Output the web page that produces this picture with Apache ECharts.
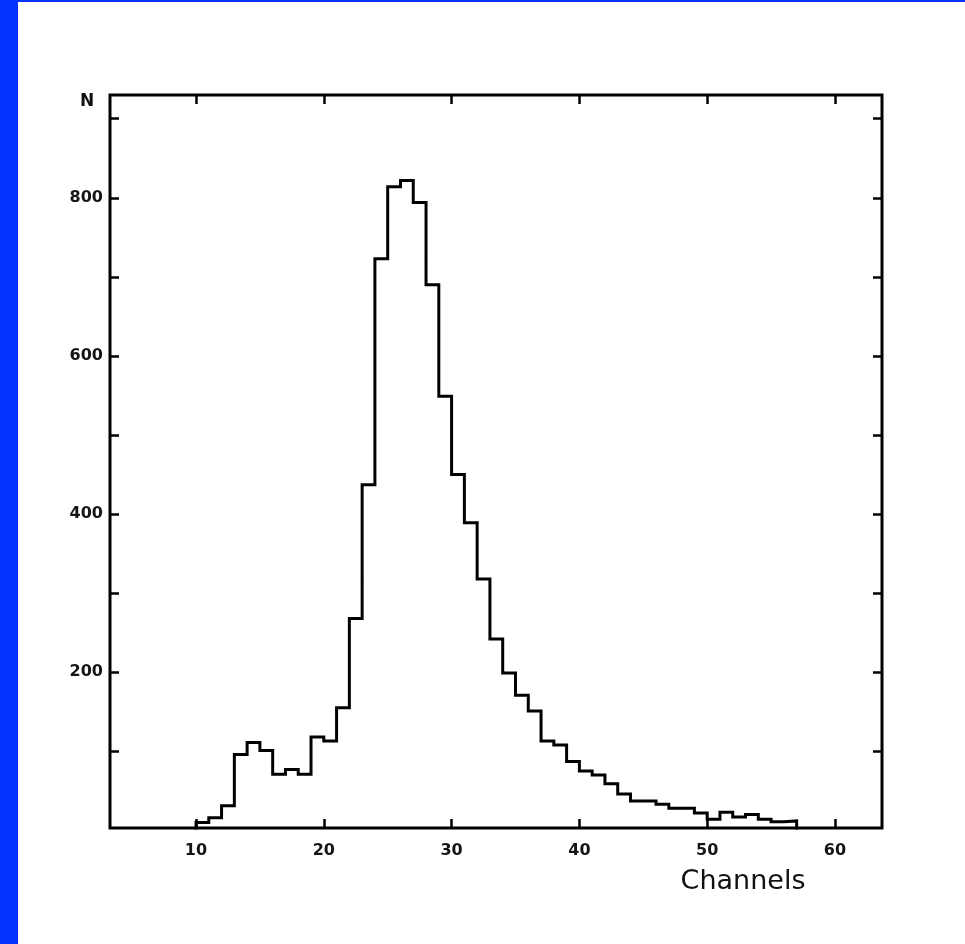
<!DOCTYPE html>
<html>
<head>
<meta charset="utf-8">
<script src="https://cdn.jsdelivr.net/npm/echarts@6/dist/echarts.min.js"></script>
<style>
html,body{margin:0;padding:0;background:#fff;}
#chart{width:965px;height:944px;}
</style>
</head>
<body>
<div id="chart"></div>
<script>
// Histogram: bin lower edges (channel) and counts
const binStart = 10;
const counts = [10, 16, 31, 96, 111, 101, 71, 77, 71, 118, 113, 155, 268, 437, 723, 814, 822, 794, 690, 549,
                450, 389, 318, 242, 199, 171, 151, 113, 108, 87, 75, 70, 59, 46, 37, 37, 33, 28, 28, 22,
                14, 23, 17, 20, 14, 11, 12];
const xTickValues = [10, 20, 30, 40, 50, 60];
const yTickValues = [100, 200, 300, 400, 500, 600, 700, 800, 900];
const yLabelValues = [200, 400, 600, 800];
const xName = 'Channels';
const yName = 'N';

// build step outline points
const pts = [[binStart, 0]];
counts.forEach((c, i) => pts.push([binStart + i + 1, c]));
pts.push([binStart + counts.length, 0]);

const chart = echarts.init(document.getElementById('chart'));
const tickStyle = {show: true, inside: true, length: 9, lineStyle: {color: '#000', width: 2.5}};
const lblFont = {fontFamily: 'DejaVu Sans', fontSize: 16, fontWeight: 'bold', color: '#151515'};
chart.setOption({
  backgroundColor: '#fff',
  animation: false,
  grid: {left: 110, right: 83, top: 95, bottom: 116, show: true, borderColor: '#000', borderWidth: 3, backgroundColor: 'transparent'},
  xAxis: [
    {type: 'value', min: 3.27, max: 63.68, position: 'bottom',
     axisLine: {show: false}, splitLine: {show: false},
     axisTick: Object.assign({customValues: xTickValues}, tickStyle),
     axisLabel: Object.assign({customValues: xTickValues, margin: 15}, lblFont)},
    {type: 'value', min: 3.27, max: 63.68, position: 'top',
     axisLine: {show: false}, splitLine: {show: false},
     axisTick: Object.assign({customValues: xTickValues}, tickStyle),
     axisLabel: {show: false}}
  ],
  yAxis: [
    {type: 'value', min: 3, max: 930, position: 'left',
     axisLine: {show: false}, splitLine: {show: false},
     axisTick: Object.assign({customValues: yTickValues}, tickStyle),
     axisLabel: Object.assign({customValues: yLabelValues, margin: 7}, lblFont)},
    {type: 'value', min: 3, max: 930, position: 'right',
     axisLine: {show: false}, splitLine: {show: false},
     axisTick: Object.assign({customValues: yTickValues}, tickStyle),
     axisLabel: {show: false}}
  ],
  series: [{
    type: 'line', step: 'start', data: pts, symbol: 'none',
    xAxisIndex: 0, yAxisIndex: 0,
    lineStyle: {color: '#000', width: 3, join: 'miter', cap: 'square'}
  }],
  graphic: [
    {type: 'rect', left: 0, top: 0, shape: {width: 18, height: 944}, style: {fill: '#0433ff'}, silent: true},
    {type: 'rect', left: 0, top: 0, shape: {width: 965, height: 2}, style: {fill: '#0433ff'}, silent: true},
    {type: 'text', x: 87, y: 102, style: {text: yName, fontFamily: 'DejaVu Sans', fontWeight: 'bold', fontSize: 17, fill: '#111', textAlign: 'center', textVerticalAlign: 'middle'}},
    {type: 'text', x: 743, y: 882, style: {text: xName, fontFamily: 'DejaVu Sans', fontSize: 27, fill: '#111', textAlign: 'center', textVerticalAlign: 'middle'}}
  ]
});
</script>
</body>
</html>
